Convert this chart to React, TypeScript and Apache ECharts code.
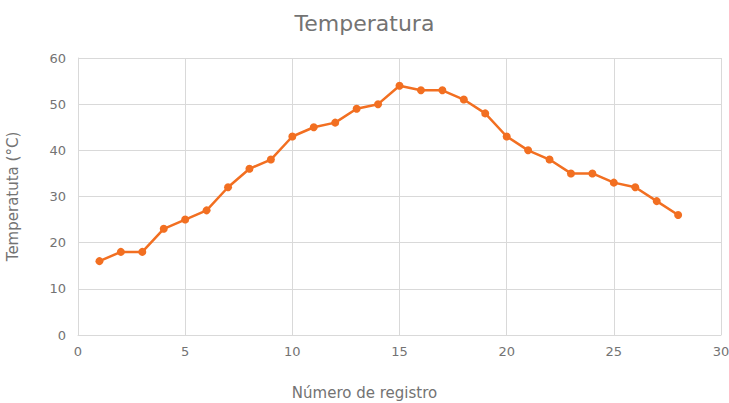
import React, { useEffect, useRef } from "react";
import * as echarts from "echarts";

const registros = [1, 2, 3, 4, 5, 6, 7, 8, 9, 10, 11, 12, 13, 14, 15, 16, 17, 18, 19, 20, 21, 22, 23, 24, 25, 26, 27, 28];
const temperaturas = [16, 18, 18, 23, 25, 27, 32, 36, 38, 43, 45, 46, 49, 50, 54, 53, 53, 51, 48, 43, 40, 38, 35, 35, 33, 32, 29, 26];
const titulo = "Temperatura";
const ejeX = "Número de registro";
const ejeY = "Temperatuta (°C)";

const FONT = "'DejaVu Sans', sans-serif";
const GRAY = "#737373";

export default function App() {
  const ref = useRef<HTMLDivElement>(null);
  useEffect(() => {
    if (!ref.current) return;
    const chart = echarts.init(ref.current, undefined, { renderer: "svg" });
    chart.setOption({
      animation: false,
      backgroundColor: "#ffffff",
      title: [
        {
          text: titulo,
          left: "center",
          top: 7,
          textStyle: { fontFamily: FONT, fontSize: 22, fontWeight: "normal", color: GRAY },
        },
        {
          text: ejeX,
          left: "center",
          top: 380,
          textStyle: { fontFamily: FONT, fontSize: 15, fontWeight: "normal", color: GRAY },
        },
      ],
      grid: { left: 78, right: 8, top: 58, bottom: 68, containLabel: false, outerBoundsMode: "none" },
      xAxis: {
        type: "value",
        min: 0,
        max: 30,
        interval: 5,
        axisLine: { show: true, lineStyle: { color: "#d9d9d9" } },
        axisTick: { show: false },
        splitLine: { show: true, lineStyle: { color: "#d9d9d9" } },
        axisLabel: { fontFamily: FONT, fontSize: 13, color: GRAY, margin: 10 },
      },
      yAxis: {
        type: "value",
        min: 0,
        max: 60,
        interval: 10,
        name: ejeY,
        nameLocation: "middle",
        nameGap: 58,
        nameTextStyle: { fontFamily: FONT, fontSize: 15, color: GRAY },
        axisLine: { show: true, lineStyle: { color: "#d9d9d9" } },
        axisTick: { show: false },
        splitLine: { show: true, lineStyle: { color: "#d9d9d9" } },
        axisLabel: { fontFamily: FONT, fontSize: 13, color: GRAY, margin: 12 },
      },
      series: [
        {
          type: "line",
          data: registros.map((r, i) => [r, temperaturas[i]]),
          symbol: "circle",
          symbolSize: 8,
          lineStyle: { color: "#F26F21", width: 2.5 },
          itemStyle: { color: "#F26F21" },
        },
      ],
    });
    return () => chart.dispose();
  }, []);
  return <div ref={ref} style={{ position: "absolute", left: 0, top: 0, width: 729, height: 403 }} />;
}
